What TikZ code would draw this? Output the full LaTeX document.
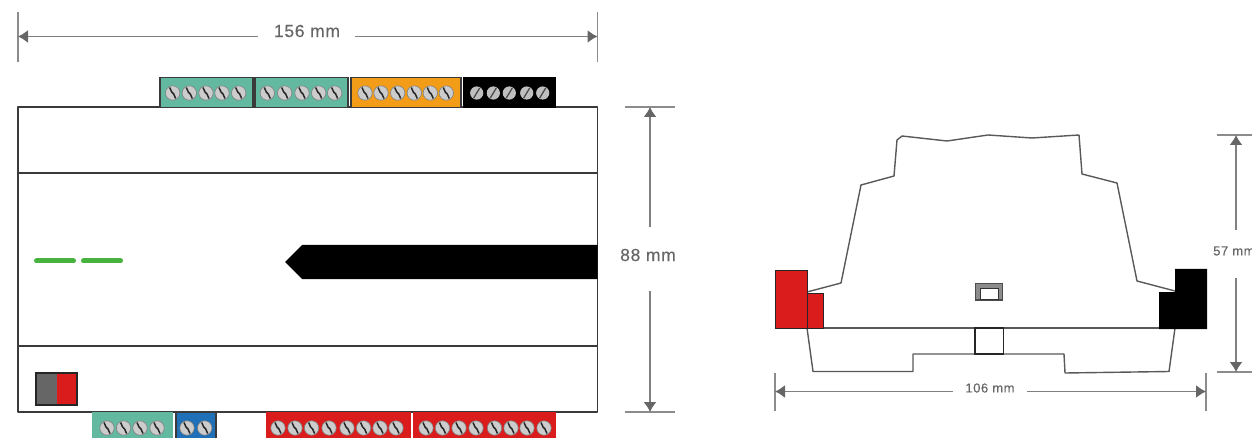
\documentclass[tikz,border=0pt]{standalone}
\usepackage{fontspec}
\setmainfont{Liberation Sans}
\newfontfamily\dimfont[LetterSpace=4,FakeBold=0.25]{Liberation Sans}
\definecolor{tgreen}{HTML}{62B9A0}
\definecolor{torange}{HTML}{F39C18}
\definecolor{tblue}{HTML}{2070B8}
\definecolor{tred}{HTML}{DB1C1C}
\definecolor{dimc}{HTML}{808080}
\definecolor{tipc}{HTML}{666666}
\definecolor{outl}{HTML}{3A3A3A}
\definecolor{ledgreen}{HTML}{48B23E}
\usetikzlibrary{arrows.meta}
\tikzset{
  x=1pt,y=-1pt,
  outline/.style={draw=outl,line width=1.3pt,line join=round},
  profile/.style={draw=black!65,line width=1.4pt,line join=round},
  termbox/.style={draw=outl,line width=1.1pt},
  screwhead/.style={fill=black!20,draw=black!50,line width=.6pt},
  slot/.style={draw=black!85,line width=1.5pt},
  dimarrow/.style={draw=dimc,line width=1.5pt,-{Latex[length=10pt,width=13pt,color=tipc]}},
  extline/.style={draw=black!45,line width=1.1pt},
  dimlabel/.style={text=black!60,inner sep=0pt,font=\dimfont\fontsize{17.5}{18}\selectfont},
  smalllabel/.style={text=black!60,inner sep=0pt,font=\dimfont\fontsize{13}{14}\selectfont},
  ledbar/.style={draw=ledgreen,line width=5pt,line cap=round},
}
\newcommand{\screws}[2]{\foreach \sx in {#2}{
  \fill[screwhead] (\sx,#1) circle (7.2);
  \draw[slot] (\sx-3,#1-5.5) -- (\sx-1,#1-1) -- (\sx+1,#1+1) -- (\sx+3,#1+5.5);}}
\begin{document}
\begin{tikzpicture}
\useasboundingbox (0,0) rectangle (1252,438);
\clip (0,0) rectangle (1252,438);
% front view
\draw[outline] (18,107) rectangle (597.5,412);
\draw[outline] (18,173) -- (597.5,173);
\draw[outline] (18,346) -- (597.5,346);
\fill[black] (285,262) -- (302,245) -- (597.5,245) -- (597.5,279) -- (302,279) -- cycle;
\draw[ledbar] (36.5,261) -- (73.5,261);
\draw[ledbar] (83.5,261) -- (120.5,261);
\fill[black!60] (36,373) rectangle (56.5,405);
\fill[tred] (56.5,373) rectangle (77,405);
\draw[draw=black!85,line width=1.2pt] (36,373) rectangle (77,405);
% top terminals
\draw[termbox,fill=tgreen] (160,107.5) -- (160,77.5) -- (253,77.5) -- (253,107.5);
\draw[termbox,fill=tgreen] (255,107.5) -- (255,77.5) -- (348,77.5) -- (348,107.5);
\draw[termbox,fill=torange] (351,107.5) -- (351,77.5) -- (461,77.5) -- (461,107.5);
\fill[black] (463,77) rectangle (556,108);
\screws{93}{172.7,189.3,206,222,238.7,267.3,284.7,302,318.7,334.7,365,381,397.7,414.3,430.3,446.3}
\foreach \sx in {476.7,493.3,509.3,526.7,542.7}{
  \fill[black!25] (\sx,93) circle (6.6);
  \draw[draw=black!70,line width=1.3pt] (\sx+3,93-5) -- (\sx-3,93+5);}
% bottom terminals
\fill[tgreen] (92,412) rectangle (173,438);
\draw[termbox,fill=tblue] (176,438.5) -- (176,412.5) -- (216,412.5) -- (216,438.5);
\fill[tred] (266,412) rectangle (411,438);
\fill[tred] (413,412) rectangle (556,438);
\screws{428}{107,123.6,140,157,187,204.7,278,295,311.6,329,347,363.6,380,396,426,442.5,459,476,494.5,511,527,544}
% dimension 156
\draw[extline] (18,12) -- (18,62);
\draw[extline] (597.5,12) -- (597.5,62);
\coordinate (wl) at (18,36.5);
\coordinate (wr) at (597.5,36.5);
\node[dimlabel] (w) at (307,31) {156 mm};
\draw[dimarrow] (258,36.5) -- (wl);
\draw[dimarrow] (355,36.5) -- (wr);
% dimension 88
\draw[extline] (625,107) -- (675,107);
\draw[extline] (625,412) -- (675,412);
\coordinate (ht) at (650,107);
\coordinate (hb) at (650,412);
\node[dimlabel] (h) at (648,255) {88 mm};
\draw[dimarrow] (650,227) -- (ht);
\draw[dimarrow] (650,291) -- (hb);
% side view
\draw[profile] (807,292) -- (841,283) -- (861,185) -- (894,176) -- (897,140) -- (902,136) -- (947,141) -- (988,135) -- (1032,138) -- (1079,135) -- (1082,174) -- (1117,183) -- (1137,281) -- (1175,291);
\draw[profile] (807,328) -- (813,371.5) -- (913,371.5) -- (913,354) -- (1064,354) -- (1065,373) -- (1169,371.5) -- (1175,328);
\draw[profile] (775,328) -- (1207,328);
\draw[draw=black!85,line width=1.3pt,fill=white] (975,328) rectangle (1003.5,354);
\draw[draw=black!70,line width=1.3pt,fill=black!45] (975.5,283.5) rectangle (1002.5,300);
\draw[draw=black!80,line width=1pt,fill=white] (980,288.5) rectangle (998,299.5);
\draw[draw=black!85,line width=1pt,fill=tred] (775.5,270) rectangle (807,328);
\draw[draw=black!85,line width=1pt,fill=tred] (807,293) rectangle (823,328);
\fill[black] (1175,269) -- (1207,269) -- (1207,329) -- (1159,329) -- (1159,292) -- (1175,292) -- cycle;
% dimension 106
\draw[extline] (775,373) -- (775,411);
\draw[extline] (1206,373) -- (1206,411);
\coordinate (sl) at (775,391.5);
\coordinate (sr) at (1206,391.5);
\node[smalllabel] (s) at (990,388) {106 mm};
\draw[dimarrow] (953,391.5) -- (sl);
\draw[dimarrow] (1027,391.5) -- (sr);
% dimension 57
\draw[extline] (1217,135) -- (1252,135);
\draw[extline] (1217,372) -- (1252,372);
\coordinate (vt) at (1236,135);
\coordinate (vb) at (1236,372);
\node[smalllabel,anchor=west] (v) at (1213,251) {57 mm};
\draw[dimarrow] (1236,230) -- (vt);
\draw[dimarrow] (1236,278) -- (vb);
\end{tikzpicture}
\end{document}
